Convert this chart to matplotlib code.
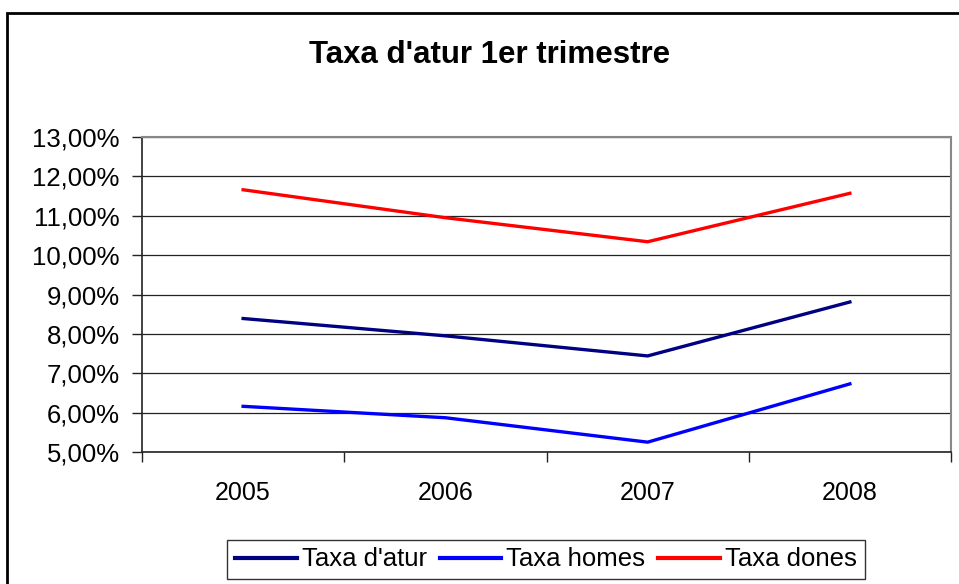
import matplotlib
matplotlib.use('Agg')
import matplotlib.pyplot as plt
import matplotlib.ticker as mticker
from matplotlib.patches import Rectangle

plt.rcParams['font.family'] = ['Liberation Sans', 'DejaVu Sans']

years = ['2005', '2006', '2007', '2008']
taxa_atur = [8.39, 7.95, 7.44, 8.81]
taxa_homes = [6.16, 5.87, 5.25, 6.73]
taxa_dones = [11.66, 10.95, 10.34, 11.57]

fig = plt.figure(figsize=(9.59, 5.84), dpi=100)
ax = fig.add_axes([142 / 959, 1 - 452 / 584, (951 - 142) / 959, (452 - 137) / 584])

x = range(len(years))
ax.plot(x, taxa_atur, color='#000080', lw=2.4, label="Taxa d'atur")
ax.plot(x, taxa_homes, color='#0000FF', lw=2.4, label='Taxa homes')
ax.plot(x, taxa_dones, color='#FF0000', lw=2.4, label='Taxa dones')

ax.set_xlim(-0.5, len(years) - 0.5)
ax.set_ylim(5, 13)
ax.set_yticks(range(5, 14))
ax.yaxis.set_major_formatter(mticker.FuncFormatter(lambda v, p: f'{v:.2f}%'.replace('.', ',')))
ax.grid(axis='y', color='#222222', lw=0.9)
ax.set_axisbelow(True)

ax.set_xticks(list(x))
ax.set_xticklabels(years)
ax.set_xticks([i - 0.5 for i in range(len(years) + 1)], minor=True)
ax.tick_params(axis='x', which='major', length=0, pad=21, labelsize=18)
ax.tick_params(axis='x', which='minor', length=7, width=1, color='#222222', direction='out')
ax.tick_params(axis='y', length=7, width=1, color='#222222', pad=9, labelsize=18.5)

for s in ['left', 'bottom']:
    ax.spines[s].set_color('#222222')
    ax.spines[s].set_linewidth(1.2)
for s in ['top', 'right']:
    ax.spines[s].set_color('#888888')
    ax.spines[s].set_linewidth(1.5)

fig.text(490 / 959, 1 - 55 / 584, "Taxa d'atur 1er trimestre", ha='center', va='center',
         fontsize=22.5, fontweight='bold')

leg = fig.legend(loc='center', bbox_to_anchor=(546 / 959, 1 - 559.5 / 584), ncol=3,
                 fontsize=18.5, frameon=True, fancybox=False, handlelength=2.4,
                 handletextpad=0.2, columnspacing=0.5, borderpad=0.3, borderaxespad=0)
leg.get_frame().set_edgecolor('black')
leg.get_frame().set_linewidth(1.0)
for line in leg.get_lines():
    line.set_linewidth(3)

# outer chart border (extends past the image on right and bottom)
fig.patches.append(Rectangle((7 / 959, -0.2), 1.2, 1 - 13 / 584 + 0.2, transform=fig.transFigure,
                             fill=False, edgecolor='black', lw=2, clip_on=False))

fig.savefig('out.png', dpi=100)
